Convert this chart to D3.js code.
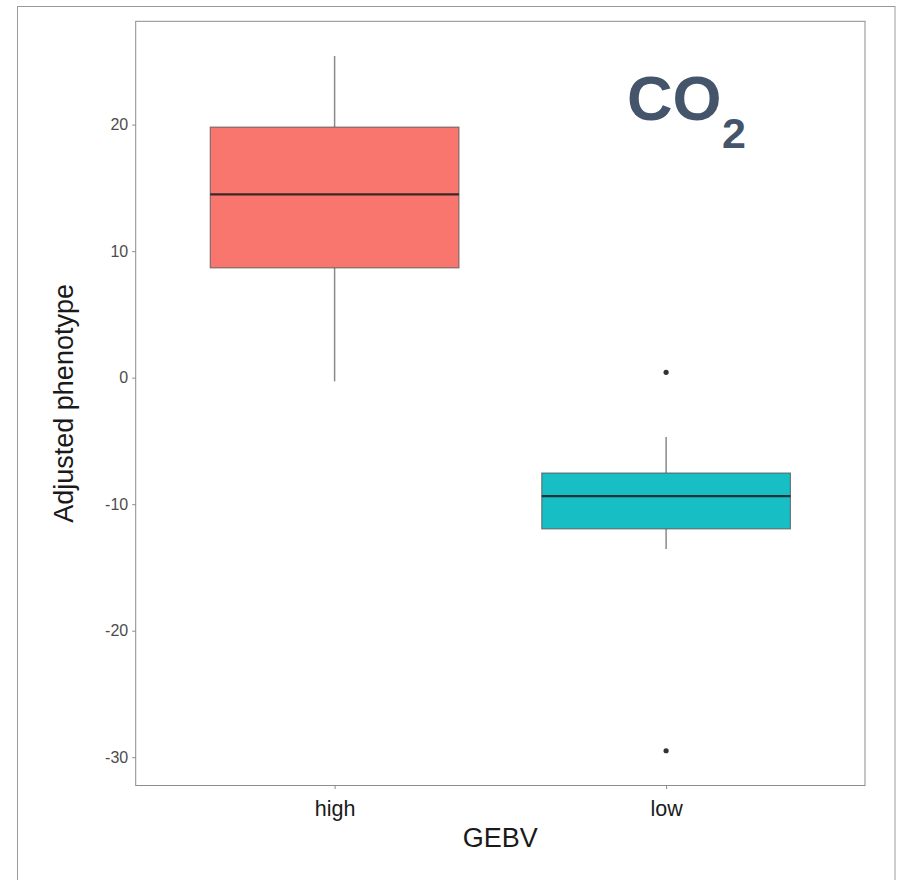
<!DOCTYPE html>
<html>
<head>
<meta charset="utf-8">
<script src="https://cdn.jsdelivr.net/npm/d3@7"></script>
<style>
  html, body { margin: 0; padding: 0; background: #fff; }
  svg { display: block; font-family: "Liberation Sans", Arial, Helvetica, sans-serif; }
</style>
</head>
<body>
<svg id="chart" width="899" height="880"></svg>
<script>
// ---- data ----
const categories = ["high", "low"];
const q1 = [8.68, -11.95];
const medians = [14.48, -9.36];
const q3 = [19.80, -7.54];
const whiskerLow = [-0.29, -13.55];
const whiskerHigh = [25.42, -4.69];
const outliers = [[], [0.42, -29.49]];
const yTicks = [-30, -20, -10, 0, 10, 20];
const yTickLabels = ["-30", "-20", "-10", "0", "10", "20"];
const fillColors = ["#F8766D", "#17BFC5"];
const xTitle = "GEBV";
const yTitle = "Adjusted phenotype";

// ---- layout ----
const svg = d3.select("#chart");
const panel = { left: 135.7, right: 865, top: 21.3, bottom: 785.5 };

// outer frame
svg.append("rect")
  .attr("x", 17.5).attr("y", 6.5)
  .attr("width", 895 - 17.5).attr("height", 900)
  .attr("fill", "none").attr("stroke", "#9a9a9a").attr("stroke-width", 1);

// y extent with 5% expansion like ggplot
const allVals = [].concat(whiskerLow, whiskerHigh, ...outliers);
const yMin = d3.min(allVals), yMax = d3.max(allVals);
const pad = (yMax - yMin) * 0.05;
const y = d3.scaleLinear().domain([yMin - pad, yMax + pad]).range([panel.bottom, panel.top]);
const x = d3.scalePoint().domain(categories).range([panel.left, panel.right]).padding(0.6);
const boxW = x.step() * 0.75;

// panel background + border
svg.append("rect")
  .attr("x", panel.left).attr("y", panel.top)
  .attr("width", panel.right - panel.left).attr("height", panel.bottom - panel.top)
  .attr("fill", "#fff").attr("stroke", "#8c8c8c").attr("stroke-width", 1);

// axes
const yAxis = svg.append("g")
  .attr("transform", `translate(${panel.left},0)`)
  .call(d3.axisLeft(y).tickValues(yTicks).tickSize(3.5).tickPadding(4)
    .tickFormat((d, i) => yTickLabels[i]));
yAxis.select(".domain").remove();
yAxis.selectAll(".tick line").attr("stroke", "#8c8c8c");
yAxis.selectAll(".tick text")
  .attr("fill", "#4d4d4d").style("font-size", "16px")
  .style("font-family", "Liberation Sans, Arial, sans-serif");

const xAxis = svg.append("g")
  .attr("transform", `translate(0,${panel.bottom})`)
  .call(d3.axisBottom(x).tickSize(3.5).tickPadding(12));
xAxis.select(".domain").remove();
xAxis.selectAll(".tick line").attr("stroke", "#8c8c8c");
xAxis.selectAll(".tick text")
  .attr("fill", "#1a1a1a").style("font-size", "21.5px")
  .style("font-family", "Liberation Sans, Arial, sans-serif");

// boxes
const g = svg.append("g");
categories.forEach((c, i) => {
  const cx = x(c);
  // whiskers
  g.append("line").attr("x1", cx).attr("x2", cx)
    .attr("y1", y(whiskerHigh[i])).attr("y2", y(q3[i]))
    .attr("stroke", "#8a8a8a").attr("stroke-width", 1.5);
  g.append("line").attr("x1", cx).attr("x2", cx)
    .attr("y1", y(q1[i])).attr("y2", y(whiskerLow[i]))
    .attr("stroke", "#8a8a8a").attr("stroke-width", 1.5);
  // box
  g.append("rect")
    .attr("x", cx - boxW / 2).attr("y", y(q3[i]))
    .attr("width", boxW).attr("height", y(q1[i]) - y(q3[i]))
    .attr("fill", fillColors[i]).attr("stroke", "#555").attr("stroke-opacity", 0.75).attr("stroke-width", 1.2);
  // median
  g.append("line")
    .attr("x1", cx - boxW / 2).attr("x2", cx + boxW / 2)
    .attr("y1", y(medians[i])).attr("y2", y(medians[i]))
    .attr("stroke", "#1a1a1a").attr("stroke-opacity", 0.85).attr("stroke-width", 2.3);
  // outliers
  outliers[i].forEach(v => {
    g.append("circle").attr("cx", cx).attr("cy", y(v)).attr("r", 2.6).attr("fill", "#333");
  });
});

// axis titles
svg.append("text")
  .attr("x", (panel.left + panel.right) / 2).attr("y", 847)
  .attr("text-anchor", "middle").attr("fill", "#1a1a1a")
  .style("font-size", "27px").text(xTitle);
svg.append("text")
  .attr("transform", `translate(73,${(panel.top + panel.bottom) / 2}) rotate(-90)`)
  .attr("text-anchor", "middle").attr("fill", "#1a1a1a")
  .style("font-size", "27px").text(yTitle);

// CO2 annotation
svg.append("text").attr("x", 627).attr("y", 120)
  .attr("fill", "#44546A").style("font-size", "63px").style("font-weight", "bold").text("CO");
svg.append("text").attr("x", 722).attr("y", 148)
  .attr("fill", "#44546A").style("font-size", "43px").style("font-weight", "bold").text("2");
</script>
</body>
</html>
